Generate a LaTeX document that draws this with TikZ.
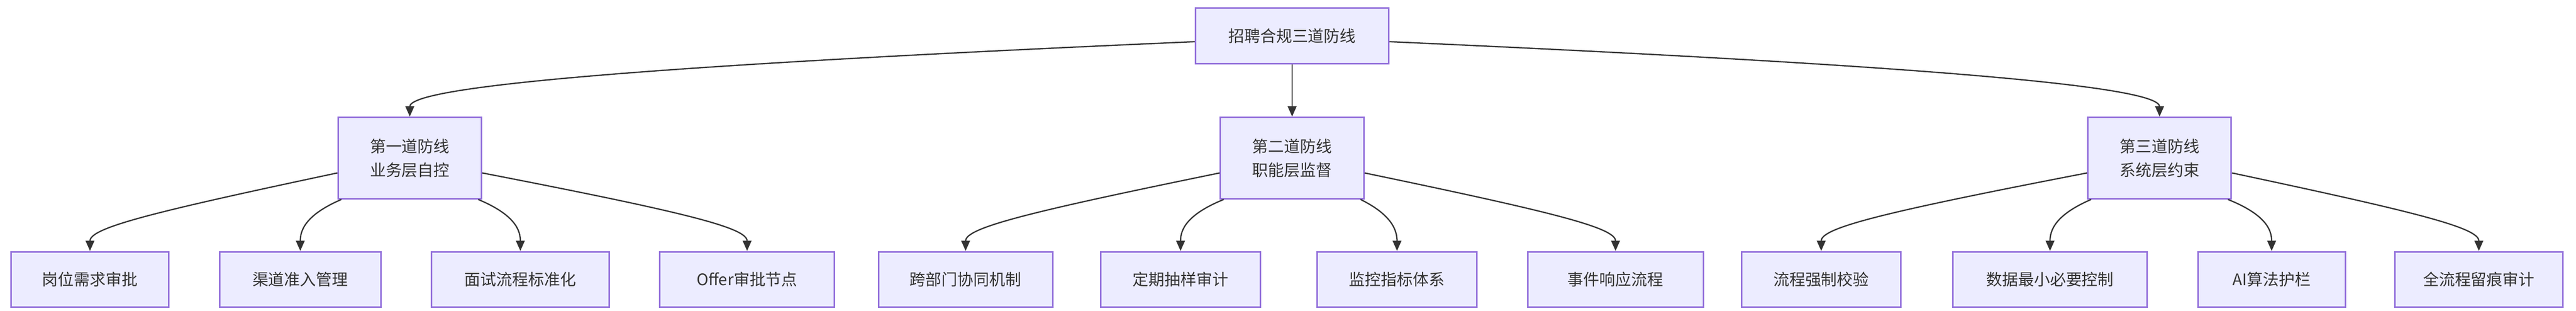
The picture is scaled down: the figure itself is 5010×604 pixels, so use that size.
\documentclass[tikz,border=0pt]{standalone}
\usepackage{fontspec}
\setmainfont{Noto Sans CJK SC}
\usetikzlibrary{arrows.meta,calc}
\definecolor{nfill}{HTML}{ECECFF}
\definecolor{nline}{HTML}{9370DB}
\definecolor{txt}{HTML}{333333}
\begin{document}
\begin{tikzpicture}[x=1pt,y=-1pt,
  box/.style={draw=nline,fill=nfill,line width=3pt,text=txt,font=\fontsize{31}{46}\selectfont,align=center,inner sep=0pt},
  edge/.style={draw=txt,line width=2.5pt,-{Triangle[length=20pt,width=17pt]}}]
\useasboundingbox (0,0) rectangle (5010,604);
\fill[white] (0,0) rectangle (5010,604);
\node[box,minimum width=376pt,minimum height=108pt] (root) at (2513,70) {招聘合规三道防线};
\foreach \n/\x/\a/\b in {m1/797/第一道防线/业务层自控,m2/2513/第二道防线/职能层监督,m3/4200/第三道防线/系统层约束}
  \node[box,minimum width=279pt,minimum height=158pt] (\n) at (\x,307) {\a\\\b};
\foreach \n/\x/\w/\t in {l1/175/307/岗位需求审批,l2/584/313/渠道准入管理,l3/1012/345/面试流程标准化,l4/1453/339/Offer审批节点,
  l5/1878/339/跨部门协同机制,l6/2296/310/定期抽样审计,l7/2717/310/监控指标体系,l8/3142/342/事件响应流程,
  l9/3542/310/流程强制校验,l10/3987/377/数据最小必要控制,l11/4418/287/AI算法护栏,l12/4821/326/全流程留痕审计}
  \node[box,minimum width=\w pt,minimum height=108pt] (\n) at (\x,543) {\t};
% root edges
\draw[edge] ($(root.west)+(0,11)$) .. controls (1200,130) and (797,170) .. (m1.north);
\draw[edge] (root.south) -- (m2.north);
\draw[edge] ($(root.east)+(0,11)$) .. controls (3800,130) and (4200,170) .. (m3.north);
% mid to leaves
\foreach \m/\a/\b/\c/\d in {m1/l1/l2/l3/l4,m2/l5/l6/l7/l8,m3/l9/l10/l11/l12}{
  \draw[edge] ($(\m.west)+(0,29)$) .. controls ($(\a.north)+(120,-75)$) and ($(\a.north)+(0,-45)$) .. (\a.north);
  \draw[edge] ($(\m.south west)+(8,0)$) .. controls ($(\b.north)+(10,-70)$) and ($(\b.north)+(0,-40)$) .. (\b.north);
  \draw[edge] ($(\m.south east)+(-8,0)$) .. controls ($(\c.north)+(-10,-70)$) and ($(\c.north)+(0,-40)$) .. (\c.north);
  \draw[edge] ($(\m.east)+(0,29)$) .. controls ($(\d.north)+(-120,-75)$) and ($(\d.north)+(0,-45)$) .. (\d.north);
}
\end{tikzpicture}
\end{document}
